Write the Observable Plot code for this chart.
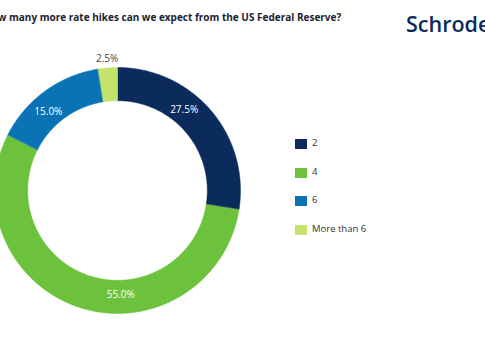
<!DOCTYPE html>
<html>
<head>
<meta charset="utf-8">
<script src="https://cdn.jsdelivr.net/npm/d3@7"></script>
<script src="https://cdn.jsdelivr.net/npm/@observablehq/plot@0.6"></script>
<style>
  html, body { margin: 0; padding: 0; background: #ffffff; }
  body { width: 485px; height: 360px; position: relative; overflow: hidden; font-family: "Open Sans", "Noto Sans", sans-serif; }
  #chart { position: absolute; left: 0; top: 0; }
  #title { position: absolute; left: -16px; top: 10px; white-space: nowrap; font-size: 10px; font-weight: 700; color: #1b2330; }
  #logo { position: absolute; left: 406px; top: 9px; white-space: nowrap; font-size: 21.5px; font-weight: 600; color: #0a2b5c; letter-spacing: 0px; }
  #legend { position: absolute; left: 295px; top: 139px; }
  .row { position: relative; height: 28.7px; }
  .sw { position: absolute; left: 0; top: 0; width: 12px; height: 10px; }
  .lab { position: absolute; left: 17px; top: -3px; font-size: 9.5px; color: #333; white-space: nowrap; }
</style>
</head>
<body>
<div id="chart"></div>
<div id="title"></div>
<div id="logo"></div>
<div id="legend"></div>
<script>
const titleText = "How many more rate hikes can we expect from the US Federal Reserve?";
const logoText = "Schroders";
const categories = ["2", "4", "6", "More than 6"];
const values = [27.5, 55.0, 15.0, 2.5];
const colors = ["#0a2b5c", "#6cc23c", "#0b72b6", "#c3e36a"];

document.getElementById("title").textContent = titleText;
document.getElementById("logo").textContent = logoText;

// Build donut slice polygons from the data
const total = d3.sum(values);
const rOuter = 1, rInner = 0.73;
const pts = [];
const labels = [];
let acc = 0;
categories.forEach((cat, i) => {
  const a0 = acc / total * 2 * Math.PI;
  acc += values[i];
  const a1 = acc / total * 2 * Math.PI;
  const n = Math.max(4, Math.ceil((a1 - a0) / (Math.PI / 360)));
  for (let k = 0; k <= n; k++) {
    const a = a0 + (a1 - a0) * k / n;
    pts.push({cat, x: rOuter * Math.sin(a), y: rOuter * Math.cos(a)});
  }
  for (let k = n; k >= 0; k--) {
    const a = a0 + (a1 - a0) * k / n;
    pts.push({cat, x: rInner * Math.sin(a), y: rInner * Math.cos(a)});
  }
  const small = values[i] < 5;
  const la = small ? (a0 + a1) / 2 : a0 + (a1 - a0) * 0.4;
  const lr = small ? 1.07 : 0.85;
  labels.push({
    x: lr * Math.sin(la), y: lr * Math.cos(la),
    text: values[i].toFixed(1) + "%",
    inside: !small
  });
});

const cx = 117, cy = 190, R = 123;
const chart = Plot.plot({
  width: 485,
  height: 360,
  margin: 0,
  style: {background: "transparent", fontFamily: "'Open Sans', sans-serif"},
  x: {domain: [-1, 1], range: [cx - R, cx + R], axis: null},
  y: {domain: [-1, 1], range: [cy + R, cy - R], axis: null},
  color: {domain: categories, range: colors},
  marks: [
    Plot.line(pts, {x: "x", y: "y", z: "cat", fill: "cat", stroke: "cat", strokeWidth: 0.5, curve: "linear-closed"}),
    Plot.text(labels, {x: "x", y: "y", text: "text", fill: d => d.inside ? "#ffffff" : "#444444", fontSize: 10})
  ]
});
document.getElementById("chart").appendChild(chart);

const legend = document.getElementById("legend");
categories.forEach((cat, i) => {
  const row = document.createElement("div");
  row.className = "row";
  const sw = document.createElement("div");
  sw.className = "sw";
  sw.style.background = colors[i];
  const lab = document.createElement("div");
  lab.className = "lab";
  lab.textContent = cat;
  row.appendChild(sw);
  row.appendChild(lab);
  legend.appendChild(row);
});
</script>
</body>
</html>
